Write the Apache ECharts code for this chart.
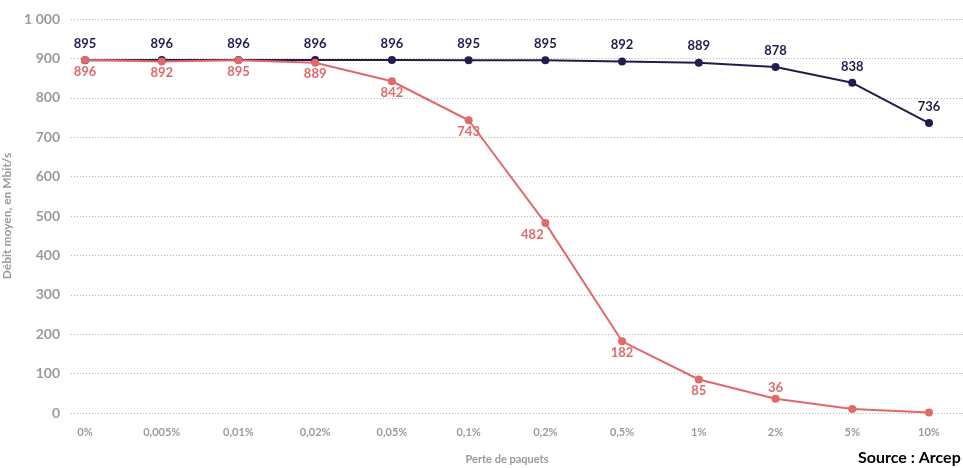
<!DOCTYPE html>
<html>
<head>
<meta charset="utf-8">
<script src="https://cdn.jsdelivr.net/npm/echarts@6/dist/echarts.min.js"></script>
<style>
  html, body { margin: 0; padding: 0; background: #fff; }
  #main { width: 963px; height: 468px; }
</style>
</head>
<body>
<div id="main"></div>
<script>
// données
const categories = ['0%', '0,005%', '0,01%', '0,02%', '0,05%', '0,1%', '0,2%', '0,5%', '1%', '2%', '5%', '10%']
const seriesNavy = [895, 896, 896, 896, 896, 895, 895, 892, 889, 878, 838, 736]
const seriesRed = [896, 892, 895, 889, 842, 743, 482, 182, 85, 36, 10, 1]
// labels affichés (null = pas d'étiquette)
const redLabels = [896, 892, 895, 889, 842, 743, 482, 182, 85, 36, null, null]
const redLabelPos = ['bottom', 'bottom', 'bottom', 'bottom', 'bottom', 'bottom', 'bottom', 'bottom', 'bottom', 'top', 'bottom', 'bottom']

const navy = '#281a4f'
const red = '#e06a6a'
const grey = '#9b9b9b'
const font = 'Lato'

let chart = echarts.init(document.getElementById('main'))

chart.setOption({
  animation: false,
  textStyle: { fontFamily: font },
  grid: [
    // grille pour les pointillés seulement (plus large)
    { left: 71, right: 0, top: 19, bottom: 55, outerBoundsMode: 'none' },
    { left: 85, right: 34, top: 19, bottom: 55, outerBoundsMode: 'none' }
  ],
  xAxis: [
    { gridIndex: 0, type: 'value', show: false },
    {
      gridIndex: 1,
      type: 'category',
      data: categories,
      boundaryGap: false,
      axisLine: { show: false },
      axisTick: { show: false },
      axisLabel: { color: grey, fontWeight: 'bold', fontSize: 11, margin: 14 },
      name: 'Perte de paquets',
      nameLocation: 'middle',
      nameGap: 41,
      nameTextStyle: { color: grey, fontWeight: 'bold', fontSize: 11 }
    }
  ],
  yAxis: [
    {
      gridIndex: 0,
      type: 'value',
      min: 0,
      max: 1000,
      interval: 100,
      axisLabel: { show: false },
      axisLine: { show: false },
      axisTick: { show: false },
      splitLine: { lineStyle: { color: '#b5b5b5', type: [1, 2], width: 1 } }
    },
    {
      gridIndex: 1,
      type: 'value',
      min: 0,
      max: 1000,
      interval: 100,
      axisLine: { show: false },
      axisTick: { show: false },
      splitLine: { show: false },
      axisLabel: {
        color: grey,
        fontWeight: 'bold',
        fontSize: 14,
        margin: 25,
        formatter: function (v) {
          return v >= 1000 ? '1 000' : String(v)
        }
      },
      name: 'Débit moyen, en Mbit/s',
      nameLocation: 'middle',
      nameGap: 63,
      nameTextStyle: { color: grey, fontWeight: 'bold', fontSize: 12 }
    }
  ],
  series: [
    {
      name: 'navy',
      type: 'line',
      xAxisIndex: 1,
      yAxisIndex: 1,
      data: seriesNavy,
      symbol: 'circle',
      symbolSize: 8,
      lineStyle: { color: navy, width: 2 },
      itemStyle: { color: navy },
      label: {
        show: true,
        position: 'top',
        distance: 6,
        color: navy,
        fontWeight: 'bold',
        fontSize: 13
      }
    },
    {
      name: 'red',
      type: 'line',
      xAxisIndex: 1,
      yAxisIndex: 1,
      data: seriesRed.map((v, i) => ({
        value: v,
        label: {
          show: redLabels[i] !== null,
          position: redLabelPos[i],
          offset: v === 482 ? [-13, 0] : [0, 0]
        }
      })),
      symbol: 'circle',
      symbolSize: 8,
      lineStyle: { color: red, width: 2 },
      itemStyle: { color: red },
      label: {
        distance: 1,
        color: red,
        fontWeight: 'bold',
        fontSize: 13
      }
    }
  ],
  graphic: [
    {
      type: 'text',
      left: 858,
      top: 450,
      style: {
        text: 'Source : Arcep',
        fill: '#000',
        font: 'bold 16px ' + font
      }
    }
  ]
})
</script>
</body>
</html>
